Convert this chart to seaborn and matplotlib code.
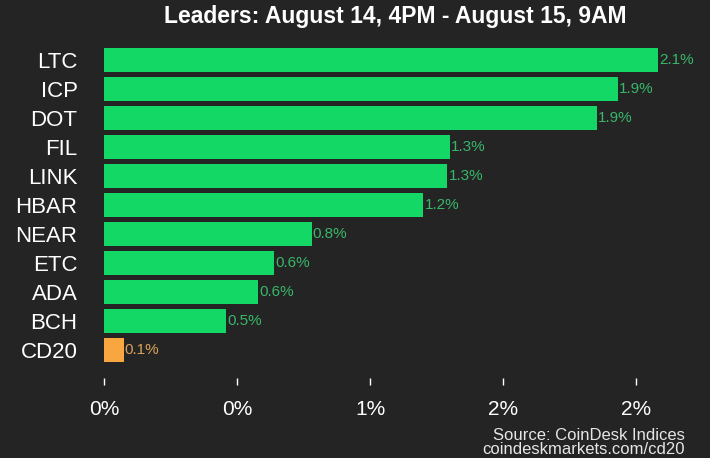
import pandas as pd
import matplotlib
matplotlib.use('Agg')
import matplotlib.pyplot as plt
import seaborn as sns
from matplotlib.ticker import FuncFormatter

# data (% change)
coins = ['LTC', 'ICP', 'DOT', 'FIL', 'LINK', 'HBAR', 'NEAR', 'ETC', 'ADA', 'BCH', 'CD20']
changes = [2.08, 1.93, 1.85, 1.30, 1.29, 1.20, 0.78, 0.64, 0.58, 0.46, 0.074]
ticks = [0.0, 0.5, 1.0, 1.5, 2.0]

bg = '#242424'
green = '#14d865'
orange = '#f8a740'
green_txt = '#38b76a'
orange_txt = '#dba25a'

sns.set_theme(style='dark')
plt.rcParams['font.family'] = ['Liberation Sans', 'DejaVu Sans']

df = pd.DataFrame({'coin': coins, 'change': changes})
colors = [orange if c == 'CD20' else green for c in coins]

fig = plt.figure(figsize=(7.1, 4.58), dpi=100, facecolor=bg)
ax = fig.add_axes([104 / 710, 1 - 378 / 458, 599 / 710, (378 - 45.5) / 458])
ax.set_facecolor(bg)

sns.barplot(data=df, x='change', y='coin', hue='coin', palette=colors,
            legend=False, width=0.83, saturation=1, edgecolor='none',
            linewidth=0, ax=ax)

for i, v in enumerate(changes):
    ax.text(v + 0.004, i, f'{v:.1f}%', va='center', ha='left', fontsize=11,
            color=orange_txt if coins[i] == 'CD20' else green_txt)

ax.set_xlim(0, 2.25)
ax.set_ylim(10.97, -0.5)
ax.set_xticks(ticks)
ax.xaxis.set_major_formatter(FuncFormatter(lambda x, p: f'{x:.0f}%'))
ax.tick_params(axis='x', bottom=True, colors='white', labelsize=15, length=5,
               width=1, pad=11, direction='out')
ax.tick_params(axis='y', left=False, colors='white', labelsize=16, length=0, pad=19)
ax.set_xlabel('')
ax.set_ylabel('')
ax.grid(False)
for s in ax.spines.values():
    s.set_visible(False)

fig.text(395 / 710, 1 - 17 / 458, 'Leaders: August 14, 4PM - August 15, 9AM',
         ha='center', va='center', color='white', fontsize=16.5, fontweight='bold')
fig.text(685 / 710, 1 - 435 / 458, 'Source: CoinDesk Indices', ha='right', va='center',
         color='#e6e6e6', fontsize=12)
fig.text(685 / 710, 1 - 450 / 458, 'coindeskmarkets.com/cd20', ha='right', va='center',
         color='#e6e6e6', fontsize=12)

fig.savefig('out.png', dpi=100, facecolor=bg)
